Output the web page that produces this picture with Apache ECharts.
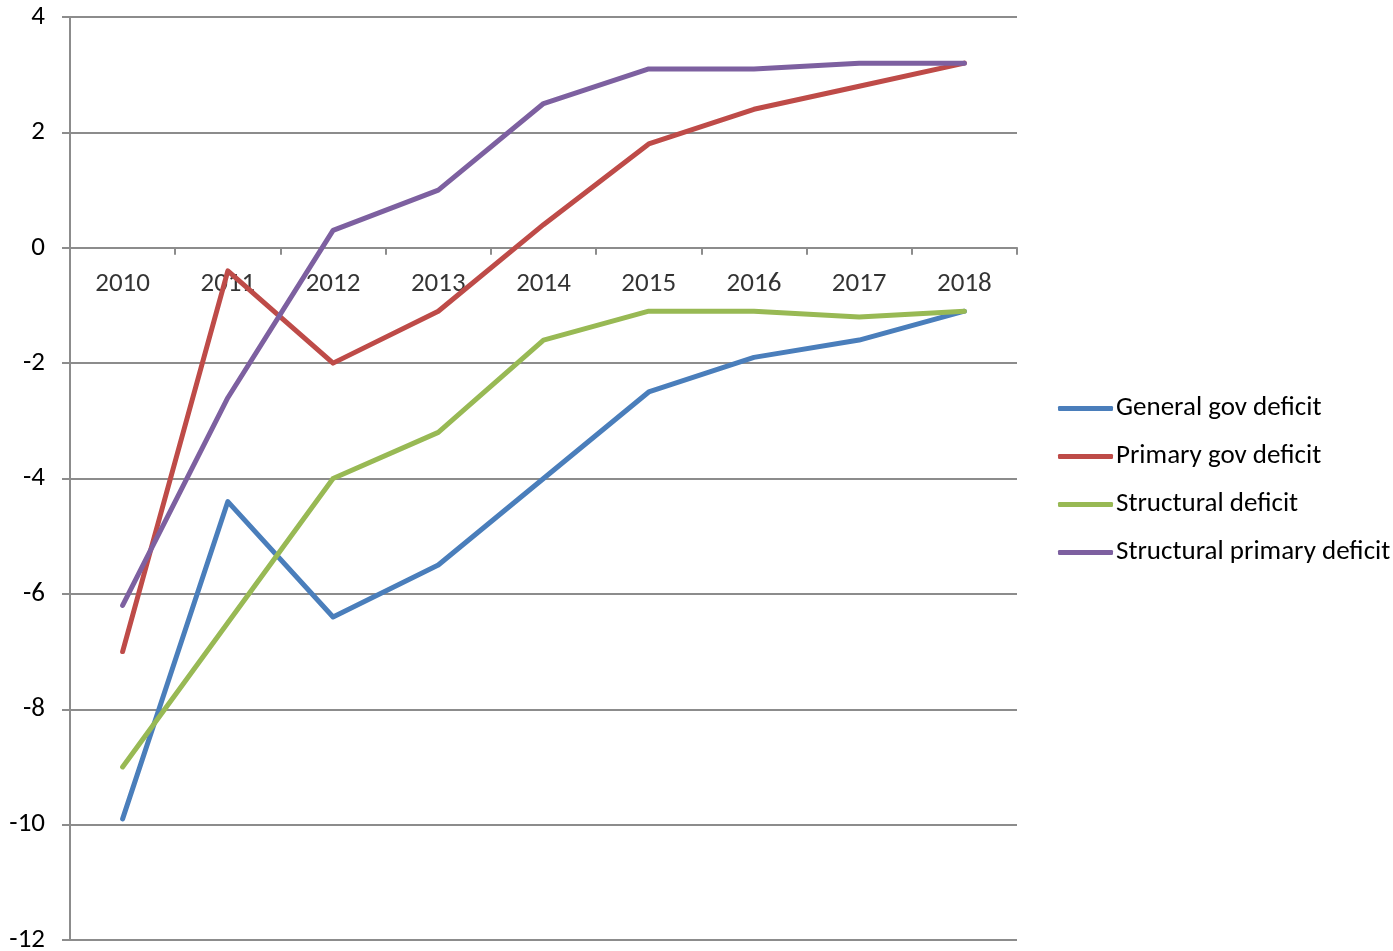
<!DOCTYPE html>
<html>
<head>
<meta charset="utf-8">
<script src="https://cdn.jsdelivr.net/npm/echarts@6/dist/echarts.min.js"></script>
<style>
  html, body { margin: 0; padding: 0; background: #fff; }
  #chart { width: 1393px; height: 951px; }
</style>
</head>
<body>
<div id="chart"></div>
<script>
// Deficit paths, % of GDP
const years = ['2010', '2011', '2012', '2013', '2014', '2015', '2016', '2017', '2018'];
const generalGovDeficit = [-9.9, -4.4, -6.4, -5.5, -4.0, -2.5, -1.9, -1.6, -1.1];
const primaryGovDeficit = [-7.0, -0.4, -2.0, -1.1, 0.4, 1.8, 2.4, 2.8, 3.2];
const structuralDeficit = [-9.0, -6.5, -4.0, -3.2, -1.6, -1.1, -1.1, -1.2, -1.1];
const structuralPrimaryDeficit = [-6.2, -2.6, 0.3, 1.0, 2.5, 3.1, 3.1, 3.2, 3.2];

const seriesNames = ['General gov deficit', 'Primary gov deficit', 'Structural deficit', 'Structural primary deficit'];
const seriesData = [generalGovDeficit, primaryGovDeficit, structuralDeficit, structuralPrimaryDeficit];
const colors = ['#4A7EBB', '#BE4B48', '#98B954', '#7D60A0'];

const FONT = "Carlito, 'Open Sans', sans-serif";
const FS = 27;
const axisGray = '#8c8c8c';

const lineSeries = seriesNames.map((name, i) => ({
  name,
  type: 'line',
  data: seriesData[i],
  symbol: 'none',
  z: 3,
  lineStyle: { width: 5, color: colors[i], cap: 'round', join: 'round' },
  itemStyle: { color: colors[i] }
}));

// Year labels sit just under the zero line, where the category axis crosses
const yearLabels = {
  name: 'years',
  type: 'scatter',
  data: years.map(y => [y, 0]),
  symbolSize: 0,
  silent: true,
  z: 1,
  label: {
    show: true,
    position: 'bottom',
    distance: 23,
    formatter: p => p.value[0],
    fontFamily: FONT,
    fontSize: FS,
    color: '#000'
  }
};

const chart = echarts.init(document.getElementById('chart'), null, { renderer: 'canvas' });
chart.setOption({
  animation: false,
  backgroundColor: '#ffffff',
  color: colors,
  grid: { left: 70, right: 376, top: 17, bottom: 11, containLabel: false, outerBoundsMode: 'none' },
  legend: {
    orient: 'vertical',
    left: 1058,
    top: 393,
    padding: 0,
    itemWidth: 55,
    itemHeight: 5,
    itemGap: 17,
    icon: 'roundRect',
    textStyle: { fontFamily: FONT, fontSize: FS, color: '#000', lineHeight: 31, padding: [0, 0, 0, -2] },
    data: seriesNames
  },
  xAxis: {
    type: 'category',
    data: years,
    boundaryGap: true,
    axisLine: { onZero: true, lineStyle: { color: axisGray, width: 2 } },
    axisTick: { show: true, alignWithLabel: false, length: 7, lineStyle: { color: axisGray, width: 2 } },
    axisLabel: { show: false },
    splitLine: { show: false }
  },
  yAxis: {
    type: 'value',
    min: -12,
    max: 4,
    interval: 2,
    axisLine: { show: true, lineStyle: { color: axisGray, width: 2 } },
    axisTick: { show: true, length: 8, lineStyle: { color: axisGray, width: 2 } },
    axisLabel: { fontFamily: FONT, fontSize: FS, color: '#000', margin: 25 },
    splitLine: { show: true, lineStyle: { color: axisGray, width: 2 } }
  },
  series: lineSeries.concat([yearLabels])
});
</script>
</body>
</html>
